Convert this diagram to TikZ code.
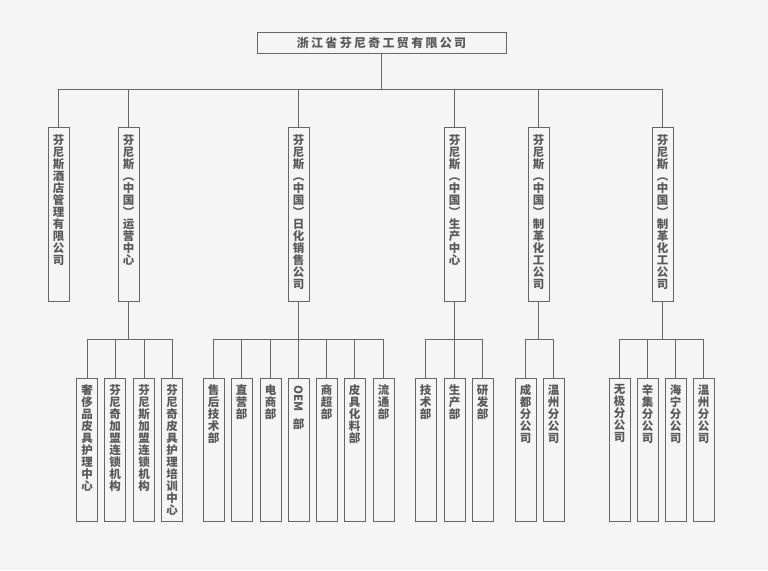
\documentclass[tikz,border=0pt]{standalone}
\usepackage{fontspec}
\setmainfont{Noto Sans CJK SC}
\usepackage{graphicx}
\definecolor{bgc}{HTML}{F5F5F5}
\definecolor{linec}{HTML}{666666}
\definecolor{txtc}{HTML}{595959}
\tikzset{
  conn/.style={draw=linec, line width=1pt},
  topbox/.style={draw=linec, line width=1pt, fill=bgc, minimum width=249pt, minimum height=21pt, inner sep=0pt, text=txtc, font=\fontsize{12}{12}\selectfont\bfseries},
  boxa/.style={draw=linec, line width=1pt, fill=bgc, minimum width=21pt, minimum height=174pt, inner sep=0pt},
  boxb/.style={draw=linec, line width=1pt, fill=bgc, minimum width=21pt, minimum height=143pt, inner sep=0pt},
  vtext/.style={anchor=north, text=txtc, font=\fontsize{11.5}{12}\selectfont\bfseries, align=center, inner sep=0pt},
}
\newcommand{\ks}{\kern2.3pt}
\begin{document}
\begin{tikzpicture}[x=1pt,y=-1pt]
\fill[bgc] (0,0) rectangle (768,570);
\useasboundingbox (0,0) rectangle (768,570);

\node[topbox] (top) at (381.5,42.5) {浙\ks 江\ks 省\ks 芬\ks 尼\ks 奇\ks 工\ks 贸\ks 有\ks 限\ks 公\ks 司};

% level 2
\node[boxa] (a1) at (58.5,214) {};
\node[boxa] (a2) at (128.5,214) {};
\node[boxa] (a3) at (298.5,214) {};
\node[boxa] (a4) at (454.5,214) {};
\node[boxa] (a5) at (538.5,214) {};
\node[boxa] (a6) at (662.5,214) {};
\node[vtext] (a1t) at ([yshift=-8pt]a1.north) {芬\\尼\\斯\\酒\\店\\管\\理\\有\\限\\公\\司};
\node[vtext] (a2t) at ([yshift=-8pt]a2.north) {芬\\尼\\斯\\︵\\中\\国\\︶\\运\\营\\中\\心};
\node[vtext] (a3t) at ([yshift=-8pt]a3.north) {芬\\尼\\斯\\︵\\中\\国\\︶\\日\\化\\销\\售\\公\\司};
\node[vtext] (a4t) at ([yshift=-8pt]a4.north) {芬\\尼\\斯\\︵\\中\\国\\︶\\生\\产\\中\\心};
\node[vtext] (a5t) at ([yshift=-8pt]a5.north) {芬\\尼\\斯\\︵\\中\\国\\︶\\制\\革\\化\\工\\公\\司};
\node[vtext] (a6t) at ([yshift=-8pt]a6.north) {芬\\尼\\斯\\︵\\中\\国\\︶\\制\\革\\化\\工\\公\\司};

% level 3
\foreach \n/\x in {b1/87, b2/115, b3/144, b4/172,
                   c1/213.5, c2/241.5, c3/270.5, c4/298.5, c5/326.5, c6/354.5, c7/383.5,
                   d1/425.5, d2/454.5, d3/482.5,
                   e1/525.5, e2/553.5,
                   f1/619.5, f2/647.5, f3/675.5, f4/703.5}
  \node[boxb] (\n) at (\x,449.5) {};

\node[vtext] (b1t) at ([yshift=-7pt]b1.north) {奢\\侈\\品\\皮\\具\\护\\理\\中\\心};
\node[vtext] (b2t) at ([yshift=-7pt]b2.north) {芬\\尼\\奇\\加\\盟\\连\\锁\\机\\构};
\node[vtext] (b3t) at ([yshift=-7pt]b3.north) {芬\\尼\\斯\\加\\盟\\连\\锁\\机\\构};
\node[vtext] (b4t) at ([yshift=-7pt]b4.north) {芬\\尼\\奇\\皮\\具\\护\\理\\培\\训\\中\\心};

\node[vtext] (c1t) at ([yshift=-7pt]c1.north) {售\\后\\技\\术\\部};
\node[vtext] (c2t) at ([yshift=-7pt]c2.north) {直\\营\\部};
\node[vtext] (c3t) at ([yshift=-7pt]c3.north) {电\\商\\部};
\node[vtext] (c4t) at ([yshift=-8pt]c4.north) {\rotatebox{-90}{OEM}\\[5pt]部};
\node[vtext] (c5t) at ([yshift=-7pt]c5.north) {商\\超\\部};
\node[vtext] (c6t) at ([yshift=-7pt]c6.north) {皮\\具\\化\\料\\部};
\node[vtext] (c7t) at ([yshift=-7pt]c7.north) {流\\通\\部};

\node[vtext] (d1t) at ([yshift=-7pt]d1.north) {技\\术\\部};
\node[vtext] (d2t) at ([yshift=-7pt]d2.north) {生\\产\\部};
\node[vtext] (d3t) at ([yshift=-7pt]d3.north) {研\\发\\部};

\node[vtext] (e1t) at ([yshift=-7pt]e1.north) {成\\都\\分\\公\\司};
\node[vtext] (e2t) at ([yshift=-7pt]e2.north) {温\\州\\分\\公\\司};

\node[vtext] (f1t) at ([yshift=-7pt]f1.north) {无\\极\\分\\公\\司};
\node[vtext] (f2t) at ([yshift=-7pt]f2.north) {辛\\集\\分\\公\\司};
\node[vtext] (f3t) at ([yshift=-7pt]f3.north) {海\\宁\\分\\公\\司};
\node[vtext] (f4t) at ([yshift=-7pt]f4.north) {温\\州\\分\\公\\司};

% connectors
\draw[conn] (top.south) -- ++(0,36) coordinate (j0);
\foreach \n in {a1,a2,a3,a4,a5,a6} \draw[conn] (j0) -| (\n.north);

\draw[conn] (a2.south) -- ++(0,38) coordinate (j2);
\foreach \n in {b1,b2,b3,b4} \draw[conn] (j2) -| (\n.north);
\draw[conn] (a3.south) -- ++(0,38) coordinate (j3);
\foreach \n in {c1,c2,c3,c4,c5,c6,c7} \draw[conn] (j3) -| (\n.north);
\draw[conn] (a4.south) -- ++(0,38) coordinate (j4);
\foreach \n in {d1,d2,d3} \draw[conn] (j4) -| (\n.north);
\draw[conn] (a5.south) -- ++(0,38) coordinate (j5);
\foreach \n in {e1,e2} \draw[conn] (j5) -| (\n.north);
\draw[conn] (a6.south) -- ++(0,38) coordinate (j6);
\foreach \n in {f1,f2,f3,f4} \draw[conn] (j6) -| (\n.north);
\end{tikzpicture}
\end{document}
